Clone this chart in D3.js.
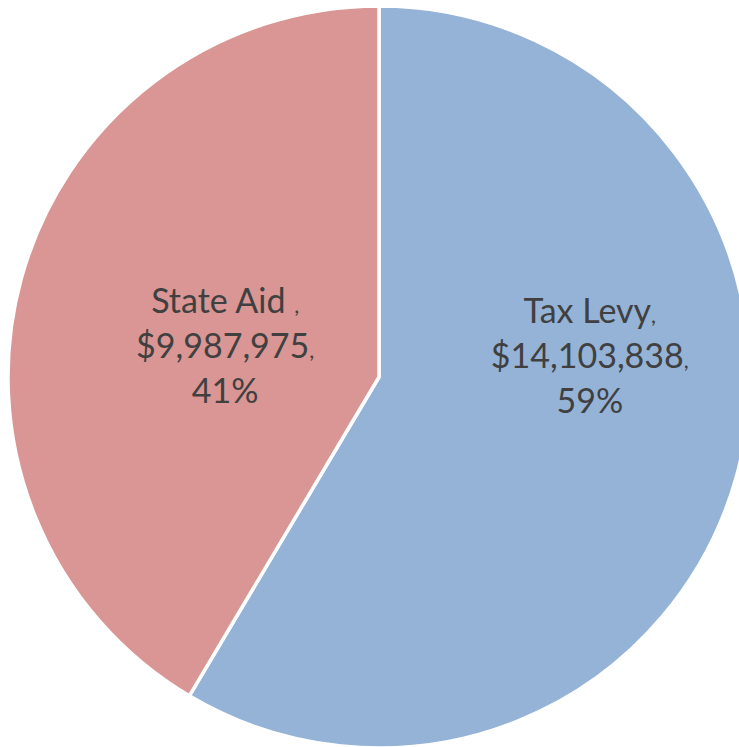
<!DOCTYPE html>
<html>
<head>
<meta charset="utf-8">
<script src="https://cdn.jsdelivr.net/npm/d3@7"></script>
<style>
  html, body { margin: 0; padding: 0; background: #fff; }
  svg { display: block; }
</style>
</head>
<body>
<div class="svg-content"></div>
<script>
const categories = ["Tax Levy", "State Aid "];
const amounts = [14103838, 9987975];
const percents = ["59%", "41%"];
const colors = ["#95B3D7", "#D99694"];

const svgWidth = 739;
const svgHeight = 747;
const cx = 379;
const cy = 377;
const radius = 371;

// label placement (polar, degrees clockwise from 12 o'clock), middle line baseline
const labelAngle = [87.6, 277.0];
const labelRadius = [211, 155];
const lineHeight = 45;

let svg = d3.select(".svg-content")
            .append("svg")
            .attr("width", svgWidth)
            .attr("height", svgHeight);

const g = svg.append("g")
             .attr("transform", "translate(" + cx + "," + cy + ")");

const pie = d3.pie().sort(null).value(d => d);
const arc = d3.arc().innerRadius(0).outerRadius(radius);

const arcs = pie(amounts);

g.selectAll("path")
 .data(arcs)
 .enter()
 .append("path")
 .attr("d", arc)
 .attr("fill", (d, i) => colors[i])
 .attr("stroke", "#fff")
 .attr("stroke-width", 3.5)
 .attr("stroke-linejoin", "round");

const fmt = d3.format(",");

const labels = g.selectAll("text.label")
  .data(arcs)
  .enter()
  .append("text")
  .attr("class", "label")
  .attr("text-anchor", "middle")
  .attr("font-family", "Lato, 'Open Sans', sans-serif")
  .attr("font-size", 34)
  .attr("fill", "#404040")
  .attr("transform", (d, i) => {
    const a = labelAngle[i] * Math.PI / 180;
    const x = Math.sin(a) * labelRadius[i];
    const y = -Math.cos(a) * labelRadius[i];
    return "translate(" + x + "," + y + ")";
  });

labels.each(function(d, i) {
  const t = d3.select(this);
  const l1 = t.append("tspan").attr("x", 0).attr("y", -lineHeight);
  l1.append("tspan").text(categories[i]);
  l1.append("tspan").attr("font-size", 22).text(",");
  const l2 = t.append("tspan").attr("x", 0).attr("y", 0);
  l2.append("tspan").text("$" + fmt(amounts[i]));
  l2.append("tspan").attr("font-size", 22).text(",");
  t.append("tspan").attr("x", 0).attr("y", lineHeight).text(percents[i]);
});
</script>
</body>
</html>
